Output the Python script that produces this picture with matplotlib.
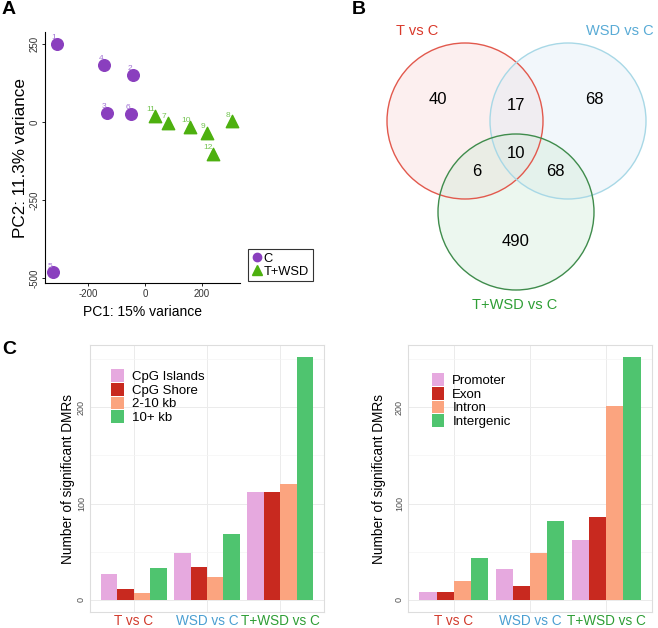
import matplotlib
matplotlib.use("Agg")
import matplotlib.pyplot as plt
from matplotlib.patches import Circle
from matplotlib.lines import Line2D
import numpy as np

plt.rcParams['font.family'] = ['Liberation Sans', 'DejaVu Sans']
plt.rcParams['axes.unicode_minus'] = False

W, H = 658, 628

# ---------------- data ----------------
# Panel A: PCA
c_ids = ['1', '4', '2', '3', '6', '5']
c_pc1 = [-310, -144, -43, -132, -49, -322]
c_pc2 = [250, 183, 150, 28, 25, -482]
t_ids = ['11', '7', '10', '9', '8', '12']
t_pc1 = [36, 80, 158, 219, 306, 237]
t_pc2 = [20, -4, -16, -36, 2, -103]

# Panel B: Venn counts
venn_sets = ['T vs C', 'WSD vs C', 'T+WSD vs C']
venn_counts = {'100': 40, '110': 17, '010': 68, '111': 10, '101': 6, '011': 68, '001': 490}

# Panel C
groups = ['T vs C', 'WSD vs C', 'T+WSD vs C']
cpg_cats = ['CpG Islands', 'CpG Shore', '2-10 kb', '10+ kb']
cpg_vals = [[27, 11.5, 7.5, 33],
            [49, 34.5, 24, 68],
            [112, 112, 120, 252]]
gene_cats = ['Promoter', 'Exon', 'Intron', 'Intergenic']
gene_vals = [[8.5, 8.5, 20, 43.5],
             [32.5, 14, 48.5, 82],
             [62, 86, 201, 252]]

# styles
purple = '#8A3FBE'
purple_lbl = '#A274D4'
green = '#4DB00F'
green_lbl = '#74C452'
bar_cols = ['#E6A9DF', '#C8291F', '#FBA47F', '#4FC46F']
grp_cols = ['#D23A2C', '#4A9FD2', '#2E9E35']

fig = plt.figure(figsize=(W / 100, H / 100), dpi=100)


def ax_px(l, t, r, b):
    return fig.add_axes([l / W, 1 - b / H, (r - l) / W, (b - t) / H])


# ---------------- Panel A ----------------
axA = ax_px(45, 32, 240, 283)
axA.scatter(c_pc1, c_pc2, s=70, marker='o', color=purple, zorder=3)
axA.scatter(t_pc1, t_pc2, s=80, marker='^', color=green, zorder=3)
for i, x, y in zip(c_ids, c_pc1, c_pc2):
    axA.annotate(i, (x, y), xytext=(-2.2, 4.5), textcoords='offset points',
                 ha='center', va='center', fontsize=6, color=purple_lbl)
for i, x, y in zip(t_ids, t_pc1, t_pc2):
    axA.annotate(i, (x, y), xytext=(-3, 4.5), textcoords='offset points',
                 ha='center', va='center', fontsize=6, color=green_lbl)
axA.set_xlim(-351, 333)
axA.set_ylim(-516, 288)
axA.set_xticks([-200, 0, 200])
axA.set_yticks([-500, -250, 0, 250])
for s in ['top', 'right']:
    axA.spines[s].set_visible(False)
for s in ['left', 'bottom']:
    axA.spines[s].set_linewidth(0.8)
axA.tick_params(labelsize=7, labelcolor='#333333', length=2.5, width=0.6, pad=1.5)
for lab in axA.get_yticklabels():
    lab.set_rotation(90)
    lab.set_va('center')
axA.set_xlabel('PC1: 15% variance', fontsize=10, labelpad=4.5)
axA.set_ylabel('PC2: 11.3% variance', fontsize=12.3, labelpad=1)

leg_handles = [Line2D([], [], marker='o', ls='', color=purple, markersize=6),
               Line2D([], [], marker='^', ls='', color=green, markersize=7.5)]
legA = fig.legend(leg_handles, ['C', 'T+WSD'], loc='upper left',
                  bbox_to_anchor=(248 / W, 1 - 249 / H), fontsize=9.3,
                  frameon=True, fancybox=False, borderpad=0.3,
                  handlelength=0.8, handletextpad=0.1, labelspacing=0.05,
                  borderaxespad=0)
legA.get_frame().set_edgecolor('black')
legA.get_frame().set_linewidth(0.8)

# ---------------- Panel B ----------------
axB = ax_px(330, 0, 658, 310)
axB.set_xlim(330, 658)
axB.set_ylim(310, 0)
axB.set_aspect('equal')
axB.axis('off')
circles = [((465, 121), 78, '#E2594D', '#F8D6D6'),
           ((568, 121), 78, '#A8D8E6', '#DDEBF6'),
           ((516, 212), 78, '#3F8C4C', '#CFEAD5')]
for (cx, cy), r, ec, fc in circles:
    axB.add_patch(Circle((cx, cy), r, facecolor=fc, edgecolor='none', alpha=0.38, zorder=1))
    axB.add_patch(Circle((cx, cy), r, facecolor='none', edgecolor=ec, lw=1.0, zorder=2))
num_pos = {'100': (438, 100), '110': (516, 105), '010': (594, 100),
           '111': (516, 153), '101': (477, 171), '011': (555, 171), '001': (516, 242)}
for k, v in venn_counts.items():
    x, y = num_pos[k]
    axB.text(x, y, str(v), ha='center', va='center', fontsize=12, color='black', zorder=3)
set_pos = [(417, 31), (620, 31), (515, 305)]
for name, (x, y), col in zip(venn_sets, set_pos, ['#D9392B', '#59ABD6', '#2E9E35']):
    axB.text(x, y, name, ha='center', va='center', fontsize=10.5, color=col)


# ---------------- Panel C ----------------
def bar_panel(box, cats, vals, leg_anchor, ylabelpad):
    ax = ax_px(*box)
    vals = np.array(vals)
    n = len(cats)
    w = 0.9 / n
    x = np.arange(1, len(groups) + 1)
    for j, (cat, col) in enumerate(zip(cats, bar_cols)):
        ax.bar(x - 0.45 + w * (j + 0.5), vals[:, j], width=w, color=col,
               label=cat, zorder=3)
    ax.set_xlim(0.4, 3.6)
    ax.set_ylim(-12.6, 264.6)
    ax.set_xticks(x)
    ax.set_xticklabels(groups, fontsize=9.8)
    for lab, c in zip(ax.get_xticklabels(), grp_cols):
        lab.set_color(c)
    ax.set_yticks([0, 100, 200])
    ax.set_yticks([50, 150, 250], minor=True)
    ax.grid(True, which='major', color='#EBEBEB', lw=0.7, zorder=0)
    ax.grid(True, which='minor', axis='y', color='#F4F4F4', lw=0.5, zorder=0)
    ax.tick_params(axis='y', labelsize=6.5, labelcolor='#4D4D4D', length=0, pad=3)
    ax.tick_params(axis='x', length=0, pad=1.5)
    ax.tick_params(which='minor', length=0)
    for lab in ax.get_yticklabels():
        lab.set_rotation(90)
        lab.set_va('center')
    for s in ax.spines.values():
        s.set_color('#DDDDDD')
        s.set_linewidth(0.8)
    ax.set_ylabel('Number of significant DMRs', fontsize=9.8, labelpad=ylabelpad)
    ax.legend(loc='upper left', bbox_to_anchor=leg_anchor, frameon=False,
              fontsize=9.5, handlelength=0.95, handleheight=1.1,
              handletextpad=0.6, labelspacing=0.0, borderaxespad=0, borderpad=0)
    return ax


bar_panel((90, 345, 324, 612), cpg_cats, cpg_vals, (0.09, 0.91), 1)
bar_panel((408, 345, 652, 612), gene_cats, gene_vals, (0.098, 0.895), 6)

# panel letters
fig.text(2 / W, 1 - 10 / H, 'A', fontsize=14, fontweight='bold', va='center')
fig.text(352 / W, 1 - 9 / H, 'B', fontsize=14, fontweight='bold', va='center')
fig.text(2 / W, 1 - 350 / H, 'C', fontsize=14, fontweight='bold', va='center')

fig.savefig('out.png', dpi=100)
